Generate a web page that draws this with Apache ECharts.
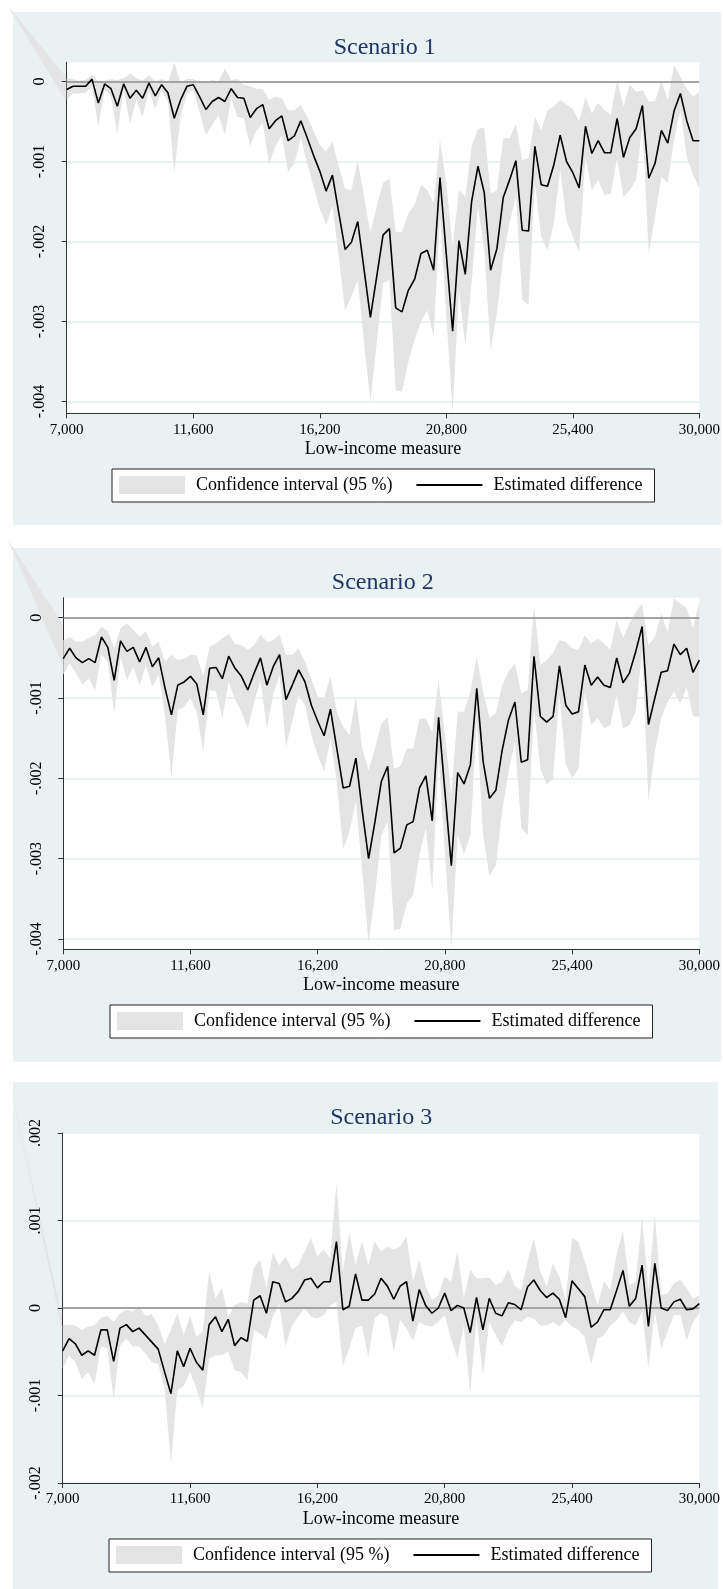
<!DOCTYPE html>
<html>
<head>
<meta charset="utf-8">
<title>Estimated difference by low-income measure</title>
<script src="https://cdn.jsdelivr.net/npm/echarts@6/dist/echarts.min.js"></script>
<style>
  html, body { margin: 0; padding: 0; background: #fff; }
  #chart { width: 723px; height: 1589px; }
</style>
</head>
<body>
<div id="chart"></div>
<script>
// income thresholds (x), one point per step
const incomeLevels = [
  7000, 7230, 7460, 7690, 7920, 8150, 8380, 8610, 8840, 9070,
  9300, 9530, 9760, 9990, 10220, 10450, 10680, 10910, 11140, 11370,
  11600, 11830, 12060, 12290, 12520, 12750, 12980, 13210, 13440, 13670,
  13900, 14130, 14360, 14590, 14820, 15050, 15280, 15510, 15740, 15970,
  16200, 16430, 16660, 16890, 17120, 17350, 17580, 17810, 18040, 18270,
  18500, 18730, 18960, 19190, 19420, 19650, 19880, 20110, 20340, 20570,
  20800, 21030, 21260, 21490, 21720, 21950, 22180, 22410, 22640, 22870,
  23100, 23330, 23560, 23790, 24020, 24250, 24480, 24710, 24940, 25170,
  25400, 25630, 25860, 26090, 26320, 26550, 26780, 27010, 27240, 27470,
  27700, 27930, 28160, 28390, 28620, 28850, 29080, 29310, 29540, 29770,
  30000
];
const xTickValues = [7000, 11600, 16200, 20800, 25400, 30000];

// all y values below are in units of 0.001
const s1Estimate = [
  -0.10, -0.06, -0.06, -0.06, 0.03, -0.27, -0.03, -0.09, -0.31, -0.03,
  -0.21, -0.11, -0.21, -0.02, -0.18, -0.04, -0.14, -0.46, -0.23, -0.06,
  -0.04, -0.19, -0.35, -0.25, -0.20, -0.25, -0.09, -0.20, -0.21, -0.45,
  -0.34, -0.29, -0.59, -0.49, -0.43, -0.74, -0.68, -0.49, -0.70, -0.92,
  -1.12, -1.37, -1.17, -1.64, -2.10, -2.01, -1.75, -2.35, -2.95, -2.44,
  -1.92, -1.84, -2.83, -2.88, -2.61, -2.47, -2.15, -2.11, -2.36, -1.20,
  -2.16, -3.12, -1.99, -2.41, -1.50, -1.06, -1.39, -2.36, -2.09, -1.45,
  -1.23, -0.99, -1.86, -1.87, -0.81, -1.29, -1.31, -1.04, -0.67, -1.00,
  -1.14, -1.33, -0.56, -0.90, -0.74, -0.89, -0.89, -0.46, -0.95, -0.70,
  -0.59, -0.30, -1.21, -1.02, -0.61, -0.77, -0.37, -0.15, -0.49, -0.74,
  -0.74
];
const s1Upper = [
  0.04, 0.03, 0.01, 0.02, 0.09, 0.00, 0.01, 0.03, 0.02, 0.04,
  0.10, 0.04, 0.01, 0.08, 0.00, 0.03, -0.02, 0.24, -0.02, 0.03,
  0.03, 0.00, -0.02, 0.02, 0.00, 0.16, 0.02, 0.03, -0.04, -0.06,
  -0.09, -0.09, -0.23, -0.19, -0.21, -0.36, -0.36, -0.29, -0.44, -0.61,
  -0.79, -0.88, -0.75, -1.06, -1.34, -1.36, -0.98, -1.44, -1.90, -1.56,
  -1.27, -1.21, -1.88, -1.88, -1.65, -1.54, -1.29, -1.36, -1.52, -0.73,
  -1.27, -2.06, -1.36, -1.44, -0.81, -0.59, -0.58, -1.40, -1.36, -0.71,
  -0.71, -0.53, -0.98, -0.96, -0.44, -0.61, -0.36, -0.31, -0.23, -0.29,
  -0.34, -0.50, -0.19, -0.40, -0.27, -0.36, -0.42, 0.02, -0.31, -0.04,
  -0.13, -0.11, -0.25, -0.25, 0.02, -0.23, 0.21, 0.06, -0.09, -0.19,
  -0.13
];
const s1Lower = [
  -0.23, -0.15, -0.15, -0.14, -0.06, -0.56, -0.10, -0.19, -0.65, -0.10,
  -0.53, -0.23, -0.44, -0.11, -0.34, -0.11, -0.25, -1.15, -0.44, -0.15,
  -0.11, -0.38, -0.67, -0.54, -0.42, -0.67, -0.21, -0.44, -0.46, -0.81,
  -0.61, -0.52, -1.04, -0.81, -0.67, -1.13, -1.02, -0.71, -1.02, -1.31,
  -1.59, -1.79, -1.56, -2.19, -2.86, -2.69, -2.48, -3.27, -4.00, -3.27,
  -2.52, -2.48, -3.86, -3.88, -3.50, -3.23, -3.00, -2.86, -3.19, -1.69,
  -2.94, -4.13, -2.61, -3.31, -2.52, -1.56, -2.11, -3.36, -2.90, -2.19,
  -1.77, -1.44, -2.73, -2.79, -1.27, -1.94, -2.11, -1.77, -1.11, -1.73,
  -1.94, -2.13, -0.94, -1.36, -1.23, -1.42, -1.40, -0.96, -1.44, -1.36,
  -1.23, -0.54, -2.15, -1.69, -1.19, -1.27, -0.73, -0.36, -0.94, -1.17,
  -1.34
];

const s2Estimate = [
  -0.51, -0.38, -0.50, -0.56, -0.51, -0.56, -0.24, -0.37, -0.78, -0.29,
  -0.42, -0.37, -0.55, -0.37, -0.61, -0.50, -0.88, -1.21, -0.84, -0.80,
  -0.73, -0.83, -1.21, -0.63, -0.62, -0.76, -0.48, -0.63, -0.73, -0.90,
  -0.69, -0.50, -0.84, -0.61, -0.46, -1.02, -0.84, -0.65, -0.80, -1.09,
  -1.29, -1.47, -1.14, -1.63, -2.12, -2.10, -1.75, -2.41, -3.00, -2.54,
  -2.04, -1.85, -2.93, -2.87, -2.58, -2.54, -2.12, -1.97, -2.53, -1.24,
  -2.17, -3.09, -1.93, -2.07, -1.83, -0.88, -1.79, -2.25, -2.15, -1.65,
  -1.27, -1.05, -1.80, -1.77, -0.48, -1.23, -1.30, -1.23, -0.60, -1.09,
  -1.20, -1.17, -0.59, -0.84, -0.74, -0.84, -0.87, -0.50, -0.81, -0.69,
  -0.42, -0.11, -1.33, -1.00, -0.68, -0.66, -0.33, -0.46, -0.38, -0.68,
  -0.53
];
const s2Upper = [
  -0.28, -0.24, -0.30, -0.30, -0.25, -0.22, -0.11, -0.17, -0.38, -0.13,
  -0.07, -0.15, -0.24, -0.17, -0.36, -0.30, -0.55, -0.46, -0.53, -0.51,
  -0.46, -0.47, -0.73, -0.36, -0.32, -0.26, -0.20, -0.33, -0.34, -0.40,
  -0.34, -0.21, -0.30, -0.28, -0.21, -0.46, -0.46, -0.38, -0.55, -0.76,
  -0.98, -1.00, -0.73, -1.17, -1.36, -1.46, -0.98, -1.63, -1.90, -1.63,
  -1.32, -1.24, -1.88, -1.85, -1.63, -1.63, -1.26, -1.26, -1.42, -0.78,
  -1.46, -2.21, -1.17, -1.17, -0.92, -0.49, -0.92, -1.25, -1.19, -0.84,
  -0.67, -0.57, -0.94, -0.90, 0.16, -0.59, -0.53, -0.44, -0.28, -0.30,
  -0.38, -0.40, -0.22, -0.32, -0.26, -0.32, -0.40, -0.03, -0.25, -0.07,
  0.07, 0.18, -0.34, -0.24, 0.05, -0.18, 0.24, 0.18, 0.12, -0.13,
  0.20
];
const s2Lower = [
  -0.71, -0.57, -0.69, -0.83, -0.76, -0.90, -0.46, -0.55, -1.19, -0.49,
  -0.78, -0.61, -0.84, -0.59, -0.86, -0.71, -1.23, -1.98, -1.15, -1.11,
  -1.00, -1.19, -1.67, -0.90, -0.92, -1.25, -0.80, -1.02, -1.17, -1.38,
  -1.05, -0.78, -1.38, -0.96, -0.71, -1.61, -1.29, -0.96, -1.09, -1.46,
  -1.71, -1.92, -1.50, -2.04, -2.89, -2.66, -2.29, -3.16, -4.05, -3.45,
  -2.71, -2.54, -3.89, -3.87, -3.56, -3.45, -2.95, -2.62, -3.39, -1.71,
  -2.95, -4.12, -2.71, -2.95, -2.71, -1.29, -2.71, -3.22, -3.08, -2.41,
  -1.92, -1.54, -2.62, -2.71, -1.13, -1.88, -2.08, -2.00, -0.96, -1.83,
  -2.00, -1.88, -0.92, -1.34, -1.25, -1.38, -1.34, -0.96, -1.38, -1.34,
  -1.17, -0.42, -2.29, -1.67, -1.25, -1.05, -0.92, -1.07, -0.86, -1.23,
  -1.23
];

const s3Estimate = [
  -0.49, -0.35, -0.41, -0.54, -0.49, -0.54, -0.25, -0.25, -0.61, -0.23,
  -0.19, -0.27, -0.23, -0.31, -0.39, -0.47, -0.73, -0.98, -0.49, -0.67,
  -0.46, -0.62, -0.71, -0.19, -0.10, -0.27, -0.13, -0.43, -0.34, -0.38,
  0.09, 0.14, -0.06, 0.30, 0.28, 0.07, 0.11, 0.19, 0.32, 0.34,
  0.23, 0.30, 0.30, 0.76, -0.02, 0.02, 0.39, 0.09, 0.09, 0.16,
  0.34, 0.25, 0.10, 0.25, 0.30, -0.15, 0.21, 0.03, -0.06, 0.00,
  0.17, -0.03, 0.03, 0.00, -0.28, 0.12, -0.25, 0.11, -0.06, -0.09,
  0.06, 0.04, -0.02, 0.24, 0.32, 0.20, 0.12, 0.17, 0.10, -0.11,
  0.31, 0.22, 0.13, -0.22, -0.16, -0.02, -0.02, 0.20, 0.43, 0.02,
  0.11, 0.49, -0.21, 0.51, 0.00, -0.03, 0.07, 0.10, -0.02, -0.01,
  0.05
];
const s3Upper = [
  -0.20, -0.19, -0.20, -0.25, -0.21, -0.20, -0.11, -0.09, -0.16, -0.06,
  -0.02, -0.04, 0.02, -0.09, -0.07, -0.20, -0.41, -0.25, -0.06, -0.31,
  -0.09, -0.33, -0.27, 0.42, 0.11, 0.23, -0.10, 0.03, 0.07, 0.05,
  0.46, 0.55, 0.23, 0.63, 0.49, 0.59, 0.44, 0.49, 0.65, 0.80,
  0.59, 0.67, 0.57, 1.43, 0.42, 0.86, 0.49, 0.76, 0.49, 0.76,
  0.65, 0.70, 0.67, 0.70, 0.82, 0.30, 0.55, 0.26, 0.09, 0.15,
  0.36, 0.30, 0.65, 0.11, 0.44, 0.34, 0.34, 0.35, 0.26, 0.30,
  0.44, 0.25, 0.21, 0.53, 0.80, 0.42, 0.25, 0.51, 0.36, 0.09,
  0.80, 0.76, 0.53, 0.28, 0.03, 0.30, 0.21, 0.61, 0.88, 0.26,
  0.30, 1.05, 0.20, 1.07, 0.15, 0.17, 0.28, 0.32, 0.23, 0.11,
  0.15
];
const s3Lower = [
  -0.69, -0.54, -0.62, -0.81, -0.73, -0.87, -0.44, -0.46, -1.04, -0.43,
  -0.35, -0.44, -0.44, -0.52, -0.62, -0.64, -0.92, -1.77, -0.94, -0.89,
  -0.73, -0.92, -1.15, -0.58, -0.54, -0.54, -0.50, -0.71, -0.73, -0.83,
  -0.25, -0.29, -0.35, -0.10, 0.05, -0.44, -0.20, -0.10, 0.00, -0.10,
  -0.12, -0.08, 0.03, 0.07, -0.66, -0.46, -0.23, -0.20, -0.56, -0.12,
  -0.06, -0.10, -0.50, -0.14, -0.23, -0.37, -0.16, -0.20, -0.21, -0.16,
  -0.08, -0.35, -0.58, -0.20, -0.98, -0.12, -0.77, -0.16, -0.31, -0.43,
  -0.25, -0.14, -0.16, -0.10, -0.12, -0.20, -0.20, -0.16, -0.21, -0.14,
  -0.21, -0.25, -0.33, -0.64, -0.35, -0.31, -0.20, -0.14, -0.04, -0.16,
  -0.20, -0.04, -0.69, -0.04, -0.46, -0.27, -0.08, -0.08, -0.37, -0.16,
  -0.06
];

const yTicksNegative = [-4, -3, -2, -1, 0];
const yTicksCentered = [-2, -1, 0, 1, 2];

const fontSerif = '"Liberation Serif", "Times New Roman", serif';
const ciName = 'Confidence interval (95 %)';
const lineName = 'Estimated difference';
const bgColor = '#eaf1f3';
const bandColor = '#e4e4e4';
const axisColor = '#333';

// layout of the three stacked panels (page pixels)
const panels = [
  {
    title: 'Scenario 1', est: s1Estimate, lo: s1Lower, hi: s1Upper,
    yMin: -4.148, yMax: 0.24, yTicks: yTicksNegative,
    bg: [13, 12, 708, 513],
    wedge: [[8, 6], [67, 78], [67, 103]],
    grid: { left: 66.7, top: 62.3, width: 636, height: 351 },
    legend: { left: 112, top: 469 }
  },
  {
    title: 'Scenario 2', est: s2Estimate, lo: s2Lower, hi: s2Upper,
    yMin: -4.13, yMax: 0.249, yTicks: yTicksNegative,
    bg: [13, 548, 708, 514],
    wedge: [[8, 540], [64, 626], [64, 668]],
    grid: { left: 63.3, top: 597.7, width: 639, height: 351.6 },
    legend: { left: 110, top: 1005 }
  },
  {
    title: 'Scenario 3', est: s3Estimate, lo: s3Lower, hi: s3Upper,
    yMin: -2, yMax: 2, yTicks: yTicksCentered,
    bg: [13, 1082, 705, 507],
    wedge: [[8, 1074], [63, 1322], [63, 1334]],
    grid: { left: 62.7, top: 1133, width: 637, height: 350 },
    legend: { left: 109, top: 1539 }
  }
];

function fmtIncome(v) {
  return String(v).replace(/\B(?=(\d{3})+(?!\d))/g, ',');
}

function fmtThousandth(v) {
  if (v === 0) return '0';
  const n = Math.round(Math.abs(v));
  return (v < 0 ? '-' : '') + '.' + String(n).padStart(3, '0');
}

// draws the whole confidence band of one panel as a single polygon
function bandRenderer(p) {
  return function (params, api) {
    if (params.dataIndex !== 0) {
      return null;
    }
    const top = incomeLevels.map((x, i) => api.coord([x, p.hi[i]]));
    const bottom = incomeLevels.map((x, i) => api.coord([x, p.lo[i]])).reverse();
    return {
      type: 'polygon',
      shape: { points: top.concat(bottom) },
      style: { fill: bandColor }
    };
  };
}

const chart = echarts.init(document.getElementById('chart'), null, { renderer: 'canvas' });

const backgrounds = panels.map(p => ({
  type: 'rect',
  z: -100,
  silent: true,
  shape: { x: p.bg[0], y: p.bg[1], width: p.bg[2], height: p.bg[3] },
  style: { fill: bgColor }
}));
// the grey sliver the source plot leaves in the top-left corner
const wedges = panels.map(p => ({
  type: 'polygon',
  z: -50,
  silent: true,
  shape: { points: p.wedge },
  style: { fill: bandColor }
}));

const option = {
  animation: false,
  backgroundColor: '#fff',
  graphic: backgrounds.concat(wedges),
  title: panels.map(p => ({
    text: p.title,
    left: p.grid.left + p.grid.width / 2,
    top: p.grid.top - 27,
    textAlign: 'center',
    padding: 0,
    textStyle: { fontFamily: fontSerif, fontSize: 24, fontWeight: 'normal', color: '#1f3566' }
  })),
  legend: panels.map(p => ({
    left: p.legend.left,
    top: p.legend.top,
    orient: 'horizontal',
    selectedMode: false,
    itemWidth: 66,
    itemHeight: 18,
    itemGap: 24,
    padding: [7, 12, 8, 7],
    borderColor: '#222',
    borderWidth: 1,
    borderRadius: 0,
    backgroundColor: '#fff',
    symbolKeepAspect: true,
    textStyle: { fontFamily: fontSerif, fontSize: 18, color: '#000', padding: [0, 0, 0, 6] },
    data: [
      { name: ciName, icon: 'rect', itemStyle: { color: bandColor, borderWidth: 0 } },
      { name: lineName, icon: 'path://M0,0 H66 V2 H0 Z', itemStyle: { color: '#000', borderWidth: 0 } }
    ]
  })),
  grid: panels.map(p => ({
    left: p.grid.left,
    top: p.grid.top,
    width: p.grid.width,
    height: p.grid.height,
    show: true,
    backgroundColor: '#fff',
    borderWidth: 0
  })),
  xAxis: panels.map((p, k) => ({
    type: 'value',
    gridIndex: k,
    min: 7000,
    max: 30000,
    name: 'Low-income measure',
    nameLocation: 'middle',
    nameGap: 27,
    nameTextStyle: { fontFamily: fontSerif, fontSize: 18, color: '#000' },
    axisLine: { show: true, onZero: false, lineStyle: { color: axisColor, width: 1 } },
    axisTick: { show: true, length: 5, customValues: xTickValues, lineStyle: { color: axisColor } },
    axisLabel: {
      customValues: xTickValues,
      formatter: fmtIncome,
      fontFamily: fontSerif,
      fontSize: 15,
      color: '#000',
      margin: 9
    },
    splitLine: { show: false }
  })),
  yAxis: panels.map((p, k) => ({
    type: 'value',
    gridIndex: k,
    min: p.yMin,
    max: p.yMax,
    axisLine: { show: true, onZero: false, lineStyle: { color: axisColor, width: 1 } },
    axisTick: { show: true, length: 5, customValues: p.yTicks, lineStyle: { color: axisColor } },
    axisLabel: {
      customValues: p.yTicks,
      formatter: fmtThousandth,
      rotate: 90,
      fontFamily: fontSerif,
      fontSize: 16,
      color: '#000',
      margin: 19
    },
    splitLine: { show: true, lineStyle: { color: '#e4eef0', width: 1.5 } }
  })),
  series: []
};

panels.forEach((p, k) => {
  option.series.push({
    name: ciName,
    type: 'custom',
    coordinateSystem: 'cartesian2d',
    xAxisIndex: k,
    yAxisIndex: k,
    silent: true,
    clip: true,
    z: 2,
    itemStyle: { color: bandColor },
    encode: { x: 0, y: [1, 2] },
    data: incomeLevels.map((x, i) => [x, p.lo[i], p.hi[i]]),
    renderItem: bandRenderer(p)
  });
  option.series.push({
    name: lineName,
    type: 'line',
    xAxisIndex: k,
    yAxisIndex: k,
    symbol: 'none',
    itemStyle: { color: '#000' },
    lineStyle: { color: '#000', width: 1.6 },
    z: 10,
    data: incomeLevels.map((x, i) => [x, p.est[i]]),
    markLine: {
      silent: true,
      z: 5,
      symbol: ['none', 'none'],
      label: { show: false },
      lineStyle: { color: '#8c8c8c', width: 1.5, type: 'solid' },
      data: [{ yAxis: 0 }]
    }
  });
});

chart.setOption(option);
</script>
</body>
</html>
